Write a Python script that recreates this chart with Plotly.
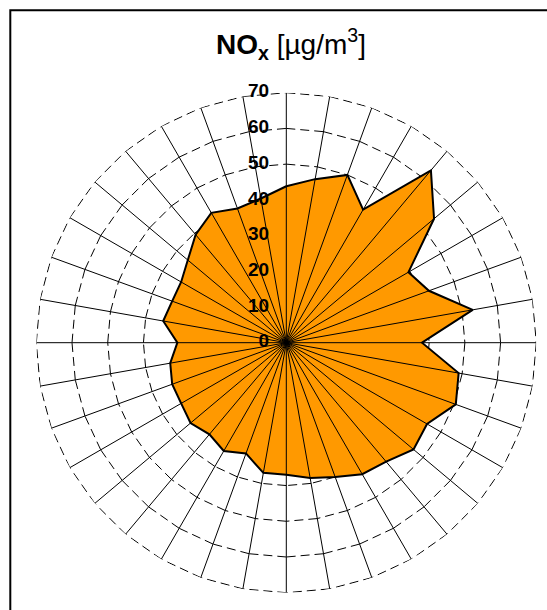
import math
import plotly.graph_objects as go

# ---- data -------------------------------------------------------------
directions = [0, 10, 20, 30, 40, 50, 60, 70, 80, 90, 100, 110,
              120, 130, 140, 150, 160, 170, 180, 190, 200, 210, 220, 230,
              240, 250, 260, 270, 280, 290, 300, 310, 320, 330, 340, 350]
nox_values = [43.8, 46.5, 50.0, 43.0, 63.0, 54.0, 39.5, 42.5, 53.0, 38.0, 49.0, 50.5,
              45.5, 46.5, 43.5, 42.5, 40.0, 38.5, 37.0, 37.0, 33.0, 35.0, 33.5, 35.0,
              34.0, 34.0, 33.0, 30.5, 35.0, 34.0, 34.0, 36.0, 39.5, 42.0, 40.0, 41.0]
radial_ticks = [0, 10, 20, 30, 40, 50, 60, 70]
radial_max = 70
title_text = "<b>NO<sub>x</sub></b> [µg/m<sup>3</sup>]"

W, H = 547, 610
FONT = "Liberation Sans, Arial, sans-serif"

# ---- dashed polygon grid rings (dash restarts at every spoke) ----------
step = directions[1] - directions[0]
ring_r, ring_t = [], []
for v in radial_ticks[1:]:
    for d in directions:
        ring_r += [v, v, None]
        ring_t += [d, d + step, None]

# ---- solid spokes (drawn above the filled area) ------------------------
spoke_r, spoke_t = [], []
for d in directions:
    spoke_r += [0, radial_max, None]
    spoke_t += [d, d, None]

fig = go.Figure()

fig.add_trace(go.Scatterpolar(
    r=ring_r, theta=ring_t, mode="lines",
    line=dict(color="black", width=1, dash="9px,5px"),
    connectgaps=False, cliponaxis=False, hoverinfo="skip", showlegend=False))

fig.add_trace(go.Scatterpolar(
    r=nox_values + nox_values[:1], theta=directions + directions[:1],
    mode="lines", fill="toself", fillcolor="#FF9900",
    line=dict(color="black", width=2),
    hoverinfo="skip", showlegend=False))

fig.add_trace(go.Scatterpolar(
    r=spoke_r, theta=spoke_t, mode="lines",
    line=dict(color="black", width=1),
    connectgaps=False, cliponaxis=False, hoverinfo="skip", showlegend=False))

fig.add_trace(go.Scatterpolar(
    r=radial_ticks, theta=[0] * len(radial_ticks),
    mode="markers+text", text=[str(t) for t in radial_ticks],
    textposition="middle left",
    marker=dict(size=26, color="rgba(0,0,0,0)"),
    textfont=dict(family=FONT, size=19, color="black", weight="bold"),
    cliponaxis=False, hoverinfo="skip", showlegend=False))

cx, R = 286.3, 250.0
top_y = 92.7
fig.update_layout(
    width=W, height=H,
    margin=dict(l=0, r=0, t=0, b=0),
    paper_bgcolor="white",
    showlegend=False,
    title=dict(text=title_text, x=291 / W, xanchor="center",
               y=1 - 44 / H, yanchor="middle",
               font=dict(family=FONT, size=28, color="black")),
    polar=dict(
        domain=dict(x=[(cx - R) / W, (cx + R) / W],
                    y=[(H - top_y - 2 * R) / H, (H - top_y) / H]),
        bgcolor="white",
        hole=0,
        angularaxis=dict(
            rotation=90, direction="clockwise", thetaunit="degrees",
            tickmode="array", tickvals=directions,
            showticklabels=False, ticks="",
            showgrid=False, showline=False),
        radialaxis=dict(
            range=[0, radial_max], showgrid=False, showticklabels=False,
            ticks="", showline=False),
    ),
    shapes=[dict(type="rect", xref="paper", yref="paper",
                 x0=10.3 / W, x1=1.05, y0=-0.05, y1=1 - 10.3 / H,
                 line=dict(color="black", width=2), fillcolor="rgba(0,0,0,0)")],
)

fig.write_html("out.html", config={"displayModeBar": False},
               post_script="document.body.style.margin='0';")
